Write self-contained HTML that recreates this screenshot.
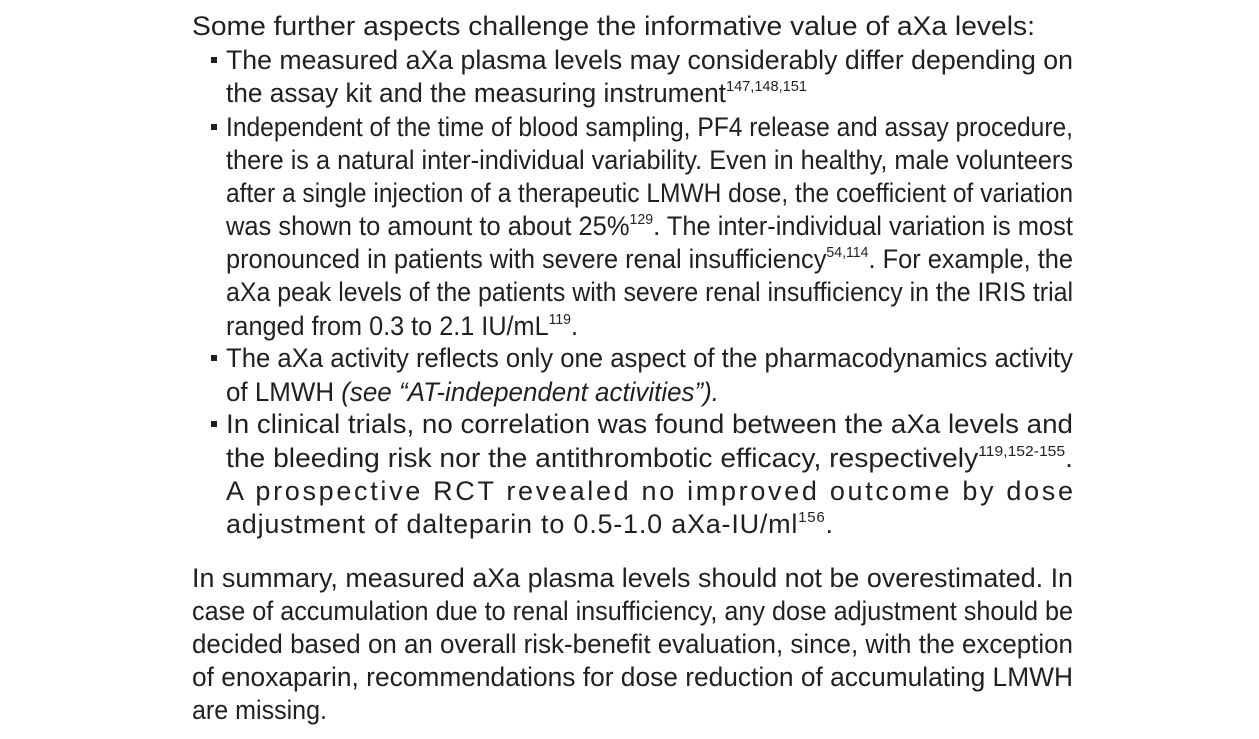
<!DOCTYPE html>
<html><head><meta charset="utf-8"><style>
html,body{margin:0;padding:0;background:#fff;width:1259px;height:739px;overflow:hidden}
svg text{font-family:"Liberation Sans",sans-serif;font-size:27px;fill:#231f20}
.s{font-size:15px}
</style></head><body>
<svg width="1259" height="739" viewBox="0 0 1259 739">
<g>
<text x="192" y="35" textLength="843" lengthAdjust="spacingAndGlyphs">Some further aspects challenge the informative value of aXa levels:</text>
</g>
<g>
<rect x="211" y="57" width="6" height="6" fill="#231f20"/>
<text x="226" y="69" textLength="847" lengthAdjust="spacingAndGlyphs">The measured aXa plasma levels may considerably differ depending on</text>
<text x="226" y="102" textLength="581" lengthAdjust="spacingAndGlyphs">the assay kit and the measuring instrument<tspan class="s" dy="-11">147,148,151</tspan></text>
<rect x="211" y="124" width="6" height="6" fill="#231f20"/>
<text x="226" y="136" textLength="847" lengthAdjust="spacingAndGlyphs">Independent of the time of blood sampling, PF4 release and assay procedure,</text>
<text x="226" y="169" textLength="847" lengthAdjust="spacingAndGlyphs">there is a natural inter-individual variability. Even in healthy, male volunteers</text>
<text x="226" y="202" textLength="847" lengthAdjust="spacingAndGlyphs">after a single injection of a therapeutic LMWH dose, the coefficient of variation</text>
<text x="226" y="235" textLength="847" lengthAdjust="spacingAndGlyphs">was shown to amount to about 25%<tspan class="s" dy="-11">129</tspan><tspan dy="11">. The inter-individual variation is most</tspan></text>
<text x="226" y="268" textLength="847" lengthAdjust="spacingAndGlyphs">pronounced in patients with severe renal insufficiency<tspan class="s" dy="-11">54,114</tspan><tspan dy="11">. For example, the</tspan></text>
<text x="226" y="301" textLength="847" lengthAdjust="spacingAndGlyphs">aXa peak levels of the patients with severe renal insufficiency in the IRIS trial</text>
<text x="226" y="335" textLength="352" lengthAdjust="spacingAndGlyphs">ranged from 0.3 to 2.1 IU/mL<tspan class="s" dy="-11">119</tspan><tspan dy="11">.</tspan></text>
<rect x="211" y="355" width="6" height="6" fill="#231f20"/>
<text x="226" y="367" textLength="847" lengthAdjust="spacingAndGlyphs">The aXa activity reflects only one aspect of the pharmacodynamics activity</text>
<text x="226" y="401" textLength="493" lengthAdjust="spacingAndGlyphs">of LMWH <tspan font-style="italic">(see “AT-independent activities”).</tspan></text>
<rect x="211" y="421" width="6" height="6" fill="#231f20"/>
<text x="226" y="433" textLength="847" lengthAdjust="spacingAndGlyphs">In clinical trials, no correlation was found between the aXa levels and</text>
<text x="226" y="467" textLength="847" lengthAdjust="spacingAndGlyphs">the bleeding risk nor the antithrombotic efficacy, respectively<tspan class="s" dy="-11">119,152-155</tspan><tspan dy="11">.</tspan></text>
<text x="226" y="500" textLength="847" lengthAdjust="spacing">A prospective RCT revealed no improved outcome by dose</text>
<text x="226" y="533" textLength="607" lengthAdjust="spacing">adjustment of dalteparin to 0.5-1.0 aXa-IU/ml<tspan class="s" dy="-11">156</tspan><tspan dy="11">.</tspan></text>
</g>
<g>
<text x="192" y="587" textLength="881" lengthAdjust="spacingAndGlyphs">In summary, measured aXa plasma levels should not be overestimated. In</text>
<text x="192" y="620" textLength="881" lengthAdjust="spacingAndGlyphs">case of accumulation due to renal insufficiency, any dose adjustment should be</text>
<text x="192" y="653" textLength="881" lengthAdjust="spacingAndGlyphs">decided based on an overall risk-benefit evaluation, since, with the exception</text>
<text x="192" y="686" textLength="881" lengthAdjust="spacingAndGlyphs">of enoxaparin, recommendations for dose reduction of accumulating LMWH</text>
<text x="192" y="719" textLength="135" lengthAdjust="spacingAndGlyphs">are missing.</text>
</g>
</svg>
</body></html>
